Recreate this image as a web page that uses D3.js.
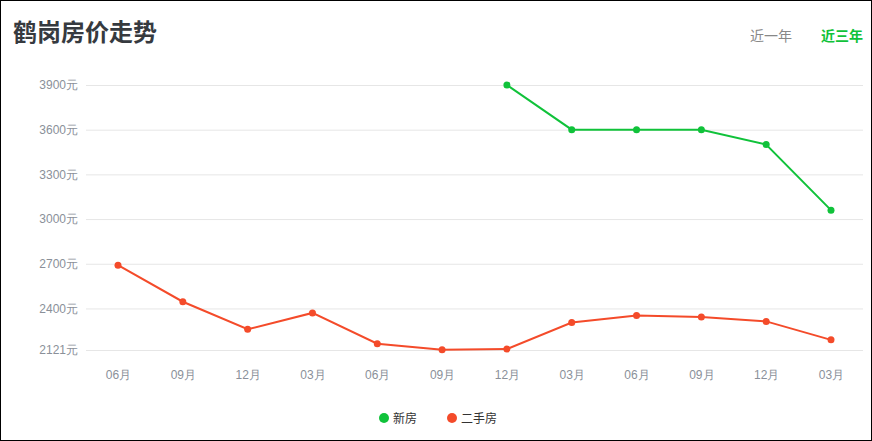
<!DOCTYPE html>
<html>
<head>
<meta charset="utf-8">
<script src="https://cdn.jsdelivr.net/npm/d3@7/dist/d3.min.js"></script>
<style>
  html, body { margin: 0; padding: 0; background: #fff; }
  svg { display: block; font-family: "Microsoft YaHei", "Noto Sans CJK SC", sans-serif; }
</style>
</head>
<body>
<svg id="chart" width="872" height="441"></svg>
<script>
const months = ["06月", "09月", "12月", "03月", "06月", "09月", "12月", "03月", "06月", "09月", "12月", "03月"];
const newHouse = [null, null, null, null, null, null, 3900, 3600, 3600, 3600, 3500, 3060];
const secondHand = [2690, 2445, 2260, 2370, 2163, 2122, 2127, 2305, 2352, 2343, 2313, 2189];
const yTicks = [2121, 2400, 2700, 3000, 3300, 3600, 3900];
const tabs = ["近一年", "近三年"];

const green = "#10c23a";
const red = "#f44b2a";

const svg = d3.select("#chart");
const width = 872, height = 441;

svg.append("rect")
    .attr("x", 0.5).attr("y", 0.5)
    .attr("width", width - 1).attr("height", height - 1)
    .attr("fill", "#fff").attr("stroke", "#000");

// title
svg.append("text")
    .attr("x", 13).attr("y", 41)
    .attr("font-size", 24).attr("font-weight", "bold")
    .attr("fill", "#363a3f")
    .text("鹤岗房价走势");

// tabs
svg.append("text")
    .attr("x", 750).attr("y", 41)
    .attr("font-size", 14).attr("fill", "#888")
    .text(tabs[0]);
svg.append("text")
    .attr("x", 821).attr("y", 41)
    .attr("font-size", 14).attr("font-weight", "bold").attr("fill", green)
    .text(tabs[1]);

// scales
let x = d3.scalePoint()
    .domain(d3.range(months.length))
    .range([118, 831]);

let y = d3.scaleLinear()
    .domain([2121, 3900])
    .range([350, 85]);

// grid + y labels
let yAxis = d3.axisLeft(y)
    .tickValues(yTicks)
    .tickSize(-(863 - 86))
    .tickPadding(8)
    .tickFormat(d => d + "元");

let gy = svg.append("g")
    .attr("transform", "translate(86,0)")
    .call(yAxis);
gy.select(".domain").remove();
gy.selectAll(".tick line").attr("stroke", "#e6e6e6");
gy.selectAll(".tick text")
    .attr("fill", "#8a9099")
    .attr("font-size", 12)
    .attr("x", -8);

// x labels
let xAxis = d3.axisBottom(x)
    .tickSize(0)
    .tickPadding(0)
    .tickFormat(i => months[i]);

let gx = svg.append("g")
    .attr("transform", "translate(0,370)")
    .call(xAxis);
gx.select(".domain").remove();
gx.selectAll(".tick text")
    .attr("fill", "#8a9099")
    .attr("font-size", 12);

// lines
function drawSeries(values, color) {
    let line = d3.line()
        .defined(d => d != null)
        .x((d, i) => x(i))
        .y(d => y(d));

    svg.append("path")
        .datum(values)
        .attr("fill", "none")
        .attr("stroke", color)
        .attr("stroke-width", 2)
        .attr("d", line);

    svg.append("g")
        .selectAll("circle")
        .data(values.map((v, i) => ({ v, i })).filter(d => d.v != null))
        .enter().append("circle")
        .attr("cx", d => x(d.i))
        .attr("cy", d => y(d.v))
        .attr("r", 3.5)
        .attr("fill", color);
}

drawSeries(secondHand, red);
drawSeries(newHouse, green);

// legend
let legend = [
    { name: "新房", color: green, x: 384 },
    { name: "二手房", color: red, x: 452 }
];
let lg = svg.append("g").selectAll("g")
    .data(legend)
    .enter().append("g")
    .attr("transform", d => "translate(" + d.x + ",418)");
lg.append("circle").attr("r", 5).attr("fill", d => d.color);
lg.append("text")
    .attr("x", 9).attr("y", 4.5)
    .attr("font-size", 12).attr("fill", "#333")
    .text(d => d.name);
</script>
</body>
</html>
